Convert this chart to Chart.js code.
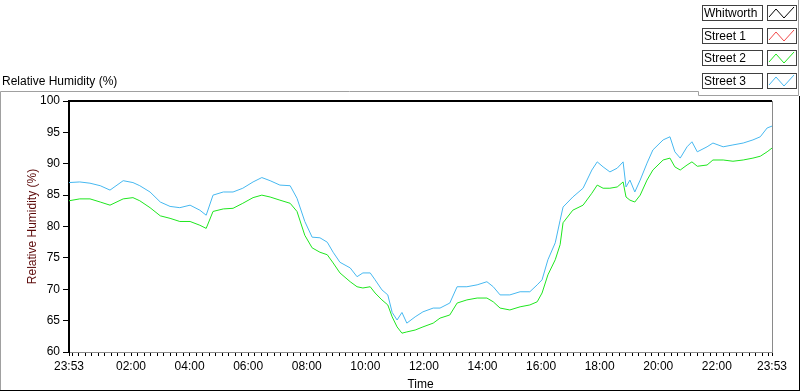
<!DOCTYPE html>
<html>
<head>
<meta charset="utf-8">
<script src="https://cdn.jsdelivr.net/npm/chart.js@4.4.1/dist/chart.umd.min.js"></script>
<style>
  body { margin: 0; background: #fff; }
  #wrap { width: 800px; height: 392px; position: relative; }
</style>
</head>
<body>
<div id="wrap"><canvas id="grafico"></canvas></div>
<script>
// minutos desde las 23:53
const minutos = [
  0, 22, 43, 64, 84, 111, 131, 145, 166, 187,
  207, 227, 248, 268, 281, 295, 316, 336, 356, 377,
  395, 412, 432, 453, 467, 483, 498, 514, 529, 541,
  555, 576, 590, 602, 617, 627, 641, 653, 662, 672,
  682, 692, 709, 725, 746, 760, 780, 795, 815, 836,
  856, 869, 883, 903, 924, 944, 959, 969, 981, 996,
  1006, 1012, 1032, 1053, 1071, 1082, 1094, 1108, 1123, 1135,
  1141, 1149, 1159, 1170, 1184, 1196, 1217, 1231, 1241, 1252,
  1266, 1276, 1287, 1307, 1319, 1340, 1360, 1381, 1401, 1416,
  1430, 1440
];

const street3 = [
  87.0, 87.1, 86.9, 86.5, 85.8, 87.3, 87.0, 86.5, 85.5, 83.9,
  83.2, 83.0, 83.4, 82.6, 81.8, 85.0, 85.5, 85.5, 86.1, 87.1,
  87.8, 87.3, 86.6, 86.5, 84.5, 80.8, 78.3, 78.2, 77.5, 75.9,
  74.3, 73.4, 72.0, 72.6, 72.6, 71.5, 69.9, 69.1, 66.3, 65.1,
  66.3, 64.6, 65.6, 66.4, 67.0, 67.0, 67.8, 70.4, 70.4, 70.7,
  71.2, 70.4, 69.1, 69.1, 69.6, 69.6, 70.7, 71.5, 74.7, 77.4,
  81.0, 83.1, 84.7, 86.1, 89.0, 90.3, 89.5, 88.7, 89.3, 90.3,
  86.3, 87.4, 85.5, 87.4, 90.1, 92.2, 93.8, 94.3, 91.9, 90.9,
  92.7, 93.5, 91.9, 92.7, 93.3, 92.7, 93.0, 93.3, 93.8, 94.3,
  95.7, 96.0
];

const street2 = [
  84.1, 84.4, 84.4, 83.9, 83.4, 84.4, 84.6, 84.1, 83.0, 81.7,
  81.3, 80.8, 80.8, 80.2, 79.7, 82.4, 82.8, 82.9, 83.7, 84.6,
  85.0, 84.7, 84.2, 83.7, 82.4, 78.6, 76.6, 75.9, 75.5, 74.2,
  72.6, 71.2, 70.4, 70.2, 70.4, 69.4, 68.3, 67.5, 65.6, 64.0,
  63.0, 63.2, 63.5, 64.0, 64.6, 65.4, 65.9, 67.8, 68.3, 68.6,
  68.6, 68.0, 67.0, 66.7, 67.2, 67.5, 68.0, 69.4, 72.3, 74.7,
  77.1, 80.6, 82.6, 83.4, 85.3, 86.6, 86.1, 86.1, 86.3, 87.1,
  84.7, 84.2, 83.9, 85.0, 87.4, 89.0, 90.6, 90.9, 89.5, 89.0,
  89.8, 90.3, 89.6, 89.8, 90.6, 90.6, 90.4, 90.6, 90.9, 91.2,
  91.9, 92.5
];

const nombres = ["Whitworth", "Street 1", "Street 2", "Street 3"];
const colores = ["#000000", "#f04848", "#1ee61e", "#46b8f0"];

// marcas principales del eje x (minutos desde 23:53) y sus etiquetas
const marcasX = [0, 127, 247, 367, 487, 607, 727, 847, 967, 1087, 1207, 1327, 1440];
const etiquetasX = ["23:53", "02:00", "04:00", "06:00", "08:00", "10:00", "12:00",
                    "14:00", "16:00", "18:00", "20:00", "22:00", "23:53"];
const marcasY = [60, 65, 70, 75, 80, 85, 90, 95, 100];

const FUENTE = "'Liberation Sans', Arial, sans-serif";

const toPts = (ys) => ys.map((y, i) => ({ x: minutos[i], y: y }));

const datos = [[], [], toPts(street2), toPts(street3)];

// marco, titulo y leyenda al estilo LabVIEW
const marcoPlugin = {
  id: "marco",
  afterDraw(chart) {
    const ctx = chart.ctx;
    const a = chart.chartArea;
    ctx.save();

    // bordes del area de grafico
    ctx.strokeStyle = "#000";
    ctx.lineWidth = 2;
    ctx.beginPath();
    ctx.moveTo(a.left - 1, a.top);
    ctx.lineTo(a.right, a.top);
    ctx.stroke();
    ctx.lineWidth = 1;
    ctx.strokeStyle = "#8a8a8a";
    ctx.beginPath();
    ctx.moveTo(a.right + 0.5, a.top);
    ctx.lineTo(a.right + 0.5, a.bottom);
    ctx.stroke();

    // marco exterior
    ctx.strokeStyle = "#a0a0a0";
    ctx.beginPath();
    ctx.moveTo(0.5, 390);
    ctx.lineTo(0.5, 91.5);
    ctx.lineTo(698.5, 91.5);
    ctx.lineTo(698.5, 95.5);
    ctx.lineTo(798.5, 95.5);
    ctx.moveTo(798.5, 0);
    ctx.lineTo(798.5, 95.5);
    ctx.stroke();
    ctx.strokeStyle = "#000";
    ctx.beginPath();
    ctx.moveTo(0, 390.5);
    ctx.lineTo(800, 390.5);
    ctx.moveTo(799.5, 96);
    ctx.lineTo(799.5, 391);
    ctx.stroke();

    // titulo superior
    ctx.fillStyle = "#000";
    ctx.font = "12px " + FUENTE;
    ctx.textAlign = "left";
    ctx.textBaseline = "middle";
    ctx.fillText("Relative Humidity (%)", 2, 82);

    // leyenda
    chart.data.datasets.forEach((ds, i) => {
      const y = Math.round(5 + i * 22.7);
      ctx.strokeStyle = "#404040";
      ctx.lineWidth = 1;
      ctx.strokeRect(702.5, y + 0.5, 60, 15);
      ctx.strokeRect(767.5, y + 0.5, 29, 15);
      ctx.fillStyle = "#000";
      ctx.fillText(ds.label, 704, y + 8.5);
      ctx.strokeStyle = ds.borderColor;
      ctx.beginPath();
      ctx.moveTo(769, y + 12);
      ctx.lineTo(776, y + 4);
      ctx.lineTo(784, y + 13);
      ctx.lineTo(794, y + 2);
      ctx.stroke();
    });
    ctx.restore();
  }
};

new Chart(document.getElementById("grafico"), {
  type: "line",
  data: {
    datasets: nombres.map((n, i) => ({
      label: n,
      data: datos[i],
      borderColor: colores[i],
      borderWidth: 1,
      pointRadius: 0,
      tension: 0,
      fill: false
    }))
  },
  options: {
    responsive: true,
    maintainAspectRatio: false,
    animation: false,
    layout: { padding: { top: 101, right: 28, left: 0, bottom: 0 } },
    plugins: {
      legend: { display: false },
      tooltip: { enabled: false }
    },
    scales: {
      x: {
        type: "linear",
        min: 0,
        max: 1440,
        afterBuildTicks(scale) {
          const vals = marcasX.slice();
          // marcas menores desde las 00:00
          for (let m = 7; m < 1440; m += 120 / 9) {
            if (!marcasX.some(v => Math.abs(v - m) < 2)) vals.push(m);
          }
          vals.sort((p, q) => p - q);
          scale.ticks = vals.map(v => ({ value: v }));
        },
        afterFit(scale) { scale.height = 40; },
        border: { display: true, color: "#8a8a8a", width: 1 },
        grid: { drawOnChartArea: false, drawTicks: true, tickLength: 4, color: "#000", tickColor: "#000" },
        ticks: {
          autoSkip: false,
          maxRotation: 0,
          padding: 3,
          color: "#000",
          font: { family: FUENTE, size: 12 },
          callback: (v) => {
            const k = marcasX.indexOf(v);
            return k >= 0 ? etiquetasX[k] : "";
          }
        },
        title: {
          display: true,
          text: "Time",
          color: "#000",
          font: { family: FUENTE, size: 12 },
          padding: { top: 0, bottom: 0 }
        }
      },
      y: {
        min: 60,
        max: 100,
        afterBuildTicks(scale) { scale.ticks = marcasY.map(v => ({ value: v })); },
        afterFit(scale) { scale.width = 69; },
        border: { display: true, color: "#000", width: 2 },
        grid: { drawOnChartArea: false, drawTicks: true, tickLength: 6, tickColor: "#000" },
        ticks: {
          padding: 3,
          color: "#000",
          font: { family: FUENTE, size: 12 }
        },
        title: {
          display: true,
          text: "Relative Humidity (%)",
          color: "#5c0a0a",
          font: { family: FUENTE, size: 12 },
          padding: { top: 25, bottom: 0 }
        }
      }
    }
  },
  plugins: [marcoPlugin]
});
</script>
</body>
</html>
